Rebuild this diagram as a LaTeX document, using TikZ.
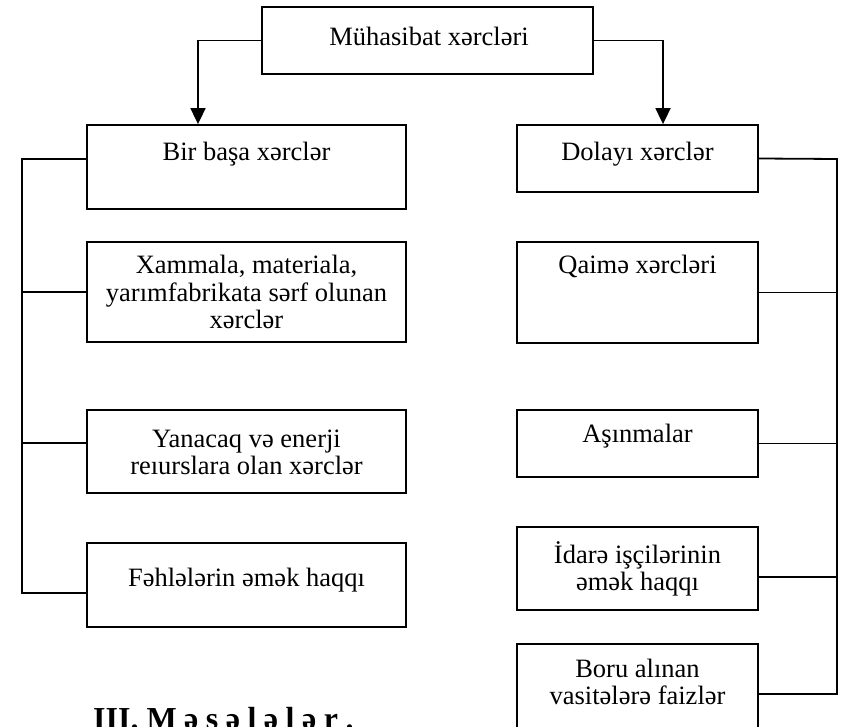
\documentclass[tikz,border=0pt]{standalone}
\usepackage{fontspec}
\setmainfont{Liberation Serif}
\usetikzlibrary{arrows.meta}
\newcommand\mlines[1]{\begin{tabular}[t]{@{}c@{}}#1\end{tabular}}
\newcommand\lsp{\kern7.5pt}
\begin{document}
\begin{tikzpicture}[x=1pt,y=-1pt,
  box/.style={draw,line width=1.8pt,inner sep=0pt,minimum width=#1},
  txt/.style={font=\fontsize{26.5pt}{27.5pt}\selectfont,inner sep=0pt,anchor=base},
  conn/.style={line width=1.8pt},
  arr/.style={line width=1.8pt,-{Triangle[length=16pt,width=15pt]}}]
\useasboundingbox (0,0) rectangle (843,727);
\fill[white] (0,0) rectangle (843,727);
\clip (0,0) rectangle (843,727);
% boxes
\node[box=331pt,minimum height=67pt] (T) at (427.5,40.5) {};
\node[box=319pt,minimum height=84pt] (B) at (246.5,167) {};
\node[box=241pt,minimum height=67pt] (D) at (637.5,158.5) {};
\node[box=319pt,minimum height=100pt] (X) at (246.5,292) {};
\node[box=241pt,minimum height=101pt] (Q) at (637.5,292.5) {};
\node[box=319pt,minimum height=83pt] (Y) at (246.5,451.5) {};
\node[box=241pt,minimum height=67pt] (A) at (637.5,443.5) {};
\node[box=319pt,minimum height=84pt] (F) at (246.5,585) {};
\node[box=241pt,minimum height=83pt] (I) at (637.5,568.5) {};
\node[box=241pt,minimum height=100pt] (Bo) at (637.5,694) {};
% texts
\node[txt] (Tt) at (429,46) {Mühasibat xərcləri};
\node[txt] (Bt) at (246.5,161) {Bir başa xərclər};
\node[txt] (Dt) at (637.5,161) {Dolayı xərclər};
\node[txt] (Xt) at (246.5,274) {\mlines{Xammala, materiala,\\yarımfabrikata sərf olunan\\xərclər}};
\node[txt] (Qt) at (637.5,273) {Qaimə xərcləri};
\node[txt] (Yt) at (246.5,447) {\mlines{Yanacaq və enerji\\reıurslara olan xərclər}};
\node[txt] (At) at (637.5,442) {Aşınmalar};
\node[txt] (Ft) at (246.5,586) {Fəhlələrin əmək haqqı};
\node[txt] (It) at (637.5,563) {\mlines{İdarə işçilərinin\\əmək haqqı}};
\node[txt] (Bot) at (637.5,677) {\mlines{Boru alınan\\vasitələrə faizlər}};
\node[font=\bfseries\fontsize{32pt}{36pt}\selectfont,inner sep=0pt,anchor=base west] (H) at (93,729) {III. M\lsp ə\lsp s\lsp ə\lsp l\lsp ə\lsp l\lsp ə\lsp r\lsp.};
% arrows
\draw[arr] (T.west) -| ([xshift=-48.5pt]B.north);
\draw[arr] (T.east) -| ([xshift=25.5pt]D.north);
% left bus
\coordinate (Ltop) at (22,159);
\coordinate (Lbot) at (22,593);
\draw[conn] ([yshift=8pt]B.west) -- (Ltop) -- (Lbot) -- ([yshift=-8pt]F.west);
\draw[conn] (X.west) -- (X.west -| Ltop);
\draw[conn] ([yshift=8.5pt]Y.west) -- ([yshift=8.5pt]Y.west -| Ltop);
% right bus
\coordinate (Rtop) at (837,159);
\coordinate (Rbot) at (837,694);
\draw[conn] (D.east) -- (Rtop) -- (Rbot) -- (Bo.east);
\draw[conn] (Q.east) -- (Q.east -| Rtop);
\draw[conn] (A.east) -- (A.east -| Rtop);
\draw[conn] ([yshift=-8.5pt]I.east) -- ([yshift=-8.5pt]I.east -| Rtop);
\end{tikzpicture}
\end{document}
